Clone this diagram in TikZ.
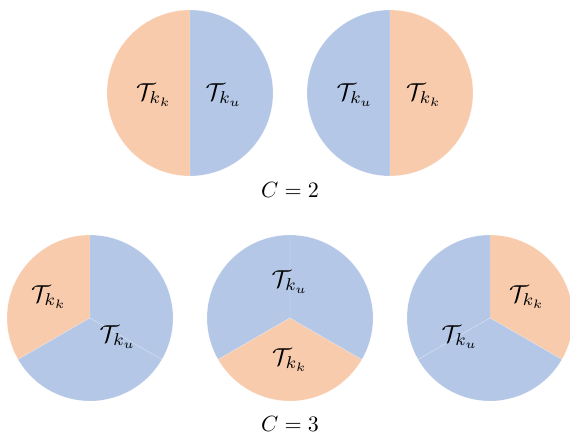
\documentclass[tikz,border=0pt]{standalone}
\usepackage{amsmath}
\definecolor{po}{HTML}{F8CBAD}
\definecolor{pb}{HTML}{B4C7E7}
\tikzset{
  sect/.style={draw=white, draw opacity=0.35, line width=0.4pt},
  lab/.style={inner sep=0pt, scale=2.45},
  captext/.style={inner sep=0pt, scale=2.2}
}
\newcommand{\sector}[5]{% center x, y, start, end, colour
  \fill[#5, sect] (#1,#2) -- ++(#3:83) arc[start angle=#3, end angle=#4, radius=83] -- cycle;}
\begin{document}
\begin{tikzpicture}[x=1pt,y=1pt]
\useasboundingbox (0,0) rectangle (570,436);
% top row
\sector{190}{343}{90}{270}{po}
\sector{190}{343}{-90}{90}{pb}
\sector{390}{343}{90}{270}{pb}
\sector{390}{343}{-90}{90}{po}
\node[lab] (a1) at (154,341) {$\mathcal{T}_{k_k}$};
\node[lab] (a2) at (224,341) {$\mathcal{T}_{k_u}$};
\node[lab] (b1) at (355,341) {$\mathcal{T}_{k_u}$};
\node[lab] (b2) at (424,341) {$\mathcal{T}_{k_k}$};
\node[captext] (c2) at (290,246) {$C=2$};
% bottom row
\sector{90}{118}{90}{210}{po}
\sector{90}{118}{210}{330}{pb}
\sector{90}{118}{330}{450}{pb}
\sector{290}{118}{90}{210}{pb}
\sector{290}{118}{210}{330}{po}
\sector{290}{118}{-30}{90}{pb}
\sector{490}{118}{-30}{90}{po}
\sector{490}{118}{90}{210}{pb}
\sector{490}{118}{210}{330}{pb}
\node[lab] (d1) at (49,139) {$\mathcal{T}_{k_k}$};
\node[lab] (d2) at (118,99) {$\mathcal{T}_{k_u}$};
\node[lab] (e1) at (290,154) {$\mathcal{T}_{k_u}$};
\node[lab] (e2) at (290,76) {$\mathcal{T}_{k_k}$};
\node[lab] (f1) at (527,139) {$\mathcal{T}_{k_k}$};
\node[lab] (f2) at (460,99) {$\mathcal{T}_{k_u}$};
\node[captext] (c3) at (290,12) {$C=3$};
\end{tikzpicture}
\end{document}
